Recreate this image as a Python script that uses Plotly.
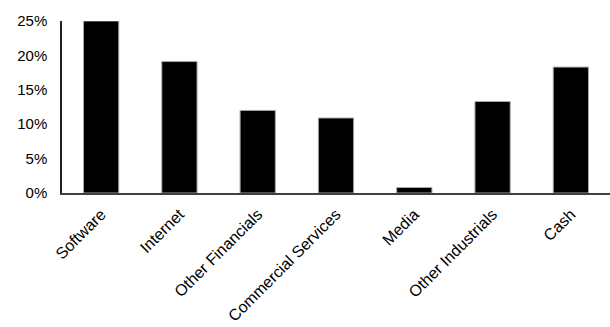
import plotly.graph_objects as go

categories = ["Software", "Internet", "Other Financials", "Commercial Services",
              "Media", "Other Industrials", "Cash"]
values = [25.0, 19.1, 12.0, 10.9, 0.8, 13.3, 18.3]
tick_vals = [0, 5, 10, 15, 20, 25]
tick_text = ["0%", "5%", "10%", "15%", "20%", "25%"]

fig = go.Figure(go.Bar(
    x=categories, y=values,
    marker=dict(color="black", line=dict(color="#a6a6a6", width=1)),
))
fig.update_layout(
    width=610, height=327,
    margin=dict(l=62, r=0, t=21, b=134),
    paper_bgcolor="white", plot_bgcolor="white",
    bargap=0.55,
    showlegend=False,
    font=dict(family="Arial, Liberation Sans, sans-serif", size=15, color="black"),
)
fig.update_xaxes(
    tickangle=-45, showgrid=False, showline=True, linecolor="#404040", linewidth=1.5,
    ticks="", tickfont=dict(size=16), ticklabelshift=0, ticklabelstandoff=4,
)
fig.update_yaxes(
    range=[0, 25], tickvals=tick_vals, ticktext=tick_text, showgrid=False,
    showline=True, linecolor="#202020", linewidth=1.5, ticks="", zeroline=False,
    ticklabelstandoff=10, tickfont=dict(size=15),
)
fig.write_html("out.html")
